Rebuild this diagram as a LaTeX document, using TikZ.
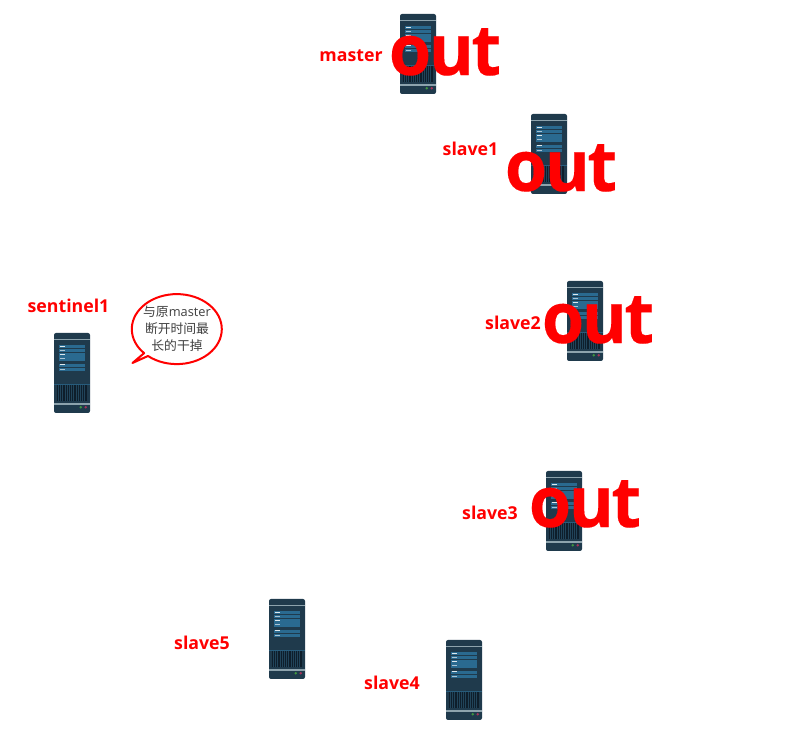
\documentclass[tikz,border=0pt]{standalone}
\usepackage{fontspec}
\setmainfont{Open Sans}
\newfontfamily\cjkfont{Noto Sans CJK SC}
\newfontfamily\outfont[BoldFeatures={LetterSpace=-3.5,FakeStretch=0.97,FakeBold=0.2}]{Open Sans}
\definecolor{ServerDark}{HTML}{1F3A4C}
\definecolor{ServerLine}{HTML}{8DA3AD}
\definecolor{ServerPanel}{HTML}{2A6A90}
\definecolor{GrilleDark}{HTML}{0E1E2B}
\definecolor{LabelRed}{HTML}{FF0000}
\tikzset{
  % Text styles
  namelabel/.style={font=\fontsize{13.3}{16}\selectfont\bfseries, text=LabelRed, inner sep=0pt},
  outlabel/.style={font=\outfont\fontsize{53}{60}\selectfont\bfseries, text=LabelRed, inner sep=0pt},
  bubbletext/.style={font=\fontsize{9.6}{12}\selectfont, text=black!75, align=center, inner sep=0pt},
  % Server icon, origin at its top left corner
  serverpic/.pic={
    \fill[ServerDark, rounded corners=1.5pt] (0,0) rectangle (36,-80);
    \fill[ServerLine] (0,-5.8) rectangle (36,-7.4);
    \foreach \ptop in {11.7, 15.7, 20.3, 24.2, 31, 35} {
      \fill[ServerPanel] (5,-\ptop) rectangle (31,-\ptop-3.4);
    }
    \foreach \dy in {13, 20.8, 31.5} {
      \fill[white!85!ServerPanel] (6,-\dy) rectangle (11,-\dy-1);
    }
    \foreach \dy in {16.8, 25, 36} {
      \fill[white!60!ServerPanel] (6,-\dy) rectangle (11,-\dy-1);
    }
    \fill[GrilleDark] (3,-52) rectangle (33,-68);
    \foreach \sx in {4,6.2,...,32} {
      \fill[ServerPanel!20!ServerDark] (\sx,-52) rectangle (\sx+0.7,-68);
    }
    \fill[ServerPanel!70!ServerDark] (0,-51) rectangle (36,-51.9);
    \fill[ServerLine] (0,-70) rectangle (36,-72);
    \fill[green!45!black!75!white] (26.7,-74.3) circle (1.4);
    \fill[purple!75!black!80!white] (31.7,-74.3) circle (1.4);
  }
}
\begin{document}
\begin{tikzpicture}[x=0.75pt, y=0.75pt]
  \useasboundingbox (0,0) rectangle (804,734);

  % Servers
  \foreach \sx/\sy in {400/14, 531/114, 567/281, 546/471, 446/640, 269/599, 54/333} {
    \pic at (\sx,734-\sy) {serverpic};
  }

  % Names
  \foreach \id/\sx/\sy/\txt in {m/351/56/master, a/470.5/149/slave1, b/513/323/slave2, c/490/513/slave3, d/392/683/slave4, e/202/643/slave5, s/68.5/306/sentinel1} {
    \node[namelabel] (name\id) at (\sx,734-\sy) {\txt};
  }

  % Out marks
  \foreach \id/\sx/\sy in {m/445/52, a/561/168, b/598/320, c/585/504} {
    \node[outlabel] (out\id) at (\sx,734-\sy) {out};
  }

  % Speech bubble
  \filldraw[draw=LabelRed, fill=white, line width=1.5pt, line join=round]
    (148,378) arc[start angle=-129.8, end angle=223.4, x radius=45, y radius=35] -- (132.5,371) -- cycle;
  \node[bubbletext] (bubble) at (177,405.5) {\cjkfont 与原\rmfamily master\\[0.8pt]\cjkfont 断开时间最\\[0.8pt]\cjkfont 长的干掉};
\end{tikzpicture}
\end{document}
